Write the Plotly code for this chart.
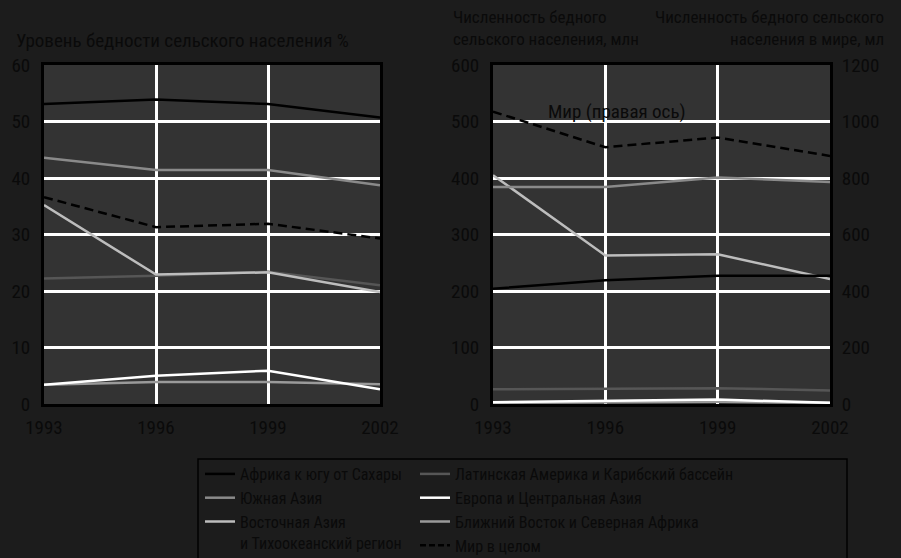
import plotly.graph_objects as go

W, H = 901, 558

years = [1993, 1996, 1999, 2002]

names = [
    "Африка к югу от Сахары",
    "Южная Азия",
    "Восточная Азия<br>и Тихоокеанский регион",
    "Латинская Америка и Карибский бассейн",
    "Европа и Центральная Азия",
    "Ближний Восток и Северная Африка",
    "Мир в целом",
]

# Left panel: rural poverty rate, %
rate_africa = [53.1, 53.9, 53.1, 50.7]
rate_sasia = [43.6, 41.4, 41.4, 38.7]
rate_easia = [35.2, 22.9, 23.3, 19.8]
rate_latam = [22.2, 22.7, 23.4, 21.0]
rate_europe = [3.4, 5.0, 5.9, 2.6]
rate_mena = [3.4, 3.9, 3.9, 3.5]
rate_world = [36.6, 31.3, 31.9, 29.3]

# Right panel: rural poor, millions
num_africa = [204, 219, 227, 227]
num_sasia = [384, 384, 401, 393]
num_easia = [405, 263, 265, 221]
num_latam = [26, 27, 28, 24]
num_europe = [3, 6, 8, 2]
num_mena = [2, 3, 4, 2]
num_world = [1035, 909, 943, 878]  # right axis

colors = ["#000000", "#8a8a8a", "#bdbdbd", "#565656", "#ffffff", "#9a9a9a", "#000000"]
dashes = ["solid"] * 6 + ["9px,5px"]
legend_ids = ["legend", "legend", "legend", "legend2", "legend2", "legend2", "legend2"]

left_vals = [rate_africa, rate_sasia, rate_easia, rate_latam, rate_europe, rate_mena, rate_world]
right_vals = [num_africa, num_sasia, num_easia, num_latam, num_europe, num_mena, num_world]

FONT = "Roboto Condensed, DejaVu Sans Condensed, sans-serif"
TXT = "#0a0a0a"
BG = "#1c1c1c"
PLOT_BG = "#333333"

fig = go.Figure()

draw_order = [3, 5, 4, 2, 1, 6, 0]
for i in draw_order:
    fig.add_trace(go.Scatter(
        x=years, y=left_vals[i], mode="lines", name=names[i],
        line=dict(color=colors[i], width=2.5, dash=dashes[i]),
        xaxis="x", yaxis="y", showlegend=False, hoverinfo="skip"))
for i in draw_order:
    fig.add_trace(go.Scatter(
        x=years, y=right_vals[i], mode="lines", name=names[i],
        line=dict(color=colors[i], width=2.5, dash=dashes[i]),
        xaxis="x2", yaxis="y3" if i == 6 else "y2",
        showlegend=False, hoverinfo="skip"))
# legend entries
for i in range(7):
    fig.add_trace(go.Scatter(
        x=[None], y=[None], mode="lines", name=names[i],
        line=dict(color=colors[i], width=2.5, dash="6px,3px" if i == 6 else "solid"),
        xaxis="x", yaxis="y", legend=legend_ids[i], showlegend=True))

def px_x(p):
    return p / W

def px_y(p):
    return 1 - p / H

ydom = [px_y(404), px_y(65)]

axis_common = dict(
    showline=True, linecolor="#000000", linewidth=3, mirror=True,
    showgrid=True, gridcolor="#ffffff", gridwidth=2.5, zeroline=False,
    ticks="outside", tickcolor="rgba(0,0,0,0)", automargin=False,
    tickfont=dict(family=FONT, size=19, color=TXT),
)

fig.update_layout(
    width=W, height=H,
    margin=dict(l=0, r=0, t=0, b=0, autoexpand=False),
    paper_bgcolor=BG, plot_bgcolor=PLOT_BG,
    font=dict(family=FONT, size=16, color=TXT),
    xaxis=dict(domain=[px_x(44), px_x(380)], range=[1993, 2002], tick0=1993, dtick=3,
               ticklen=4, anchor="y", **axis_common),
    yaxis=dict(domain=ydom, range=[0, 60], dtick=10, ticklen=7, anchor="x", **axis_common),
    xaxis2=dict(domain=[px_x(493), px_x(830)], range=[1993, 2002], tick0=1993, dtick=3,
                ticklen=4, anchor="y2", **axis_common),
    yaxis2=dict(domain=ydom, range=[0, 600], dtick=100, ticklen=7, anchor="x2", **axis_common),
    yaxis3=dict(domain=ydom, range=[0, 1200], dtick=200, overlaying="y2", side="right",
                anchor="x2", showgrid=False, zeroline=False, showline=False, automargin=False,
                ticks="outside", ticklen=7, tickcolor="rgba(0,0,0,0)",
                tickfont=dict(family=FONT, size=19, color=TXT)),
    legend=dict(x=px_x(200), y=px_y(457), xanchor="left", yanchor="top",
                bgcolor="rgba(0,0,0,0)", borderwidth=0, valign="top",
                font=dict(family=FONT, size=16, color=TXT), tracegroupgap=0),
    legend2=dict(x=px_x(415), y=px_y(457), xanchor="left", yanchor="top",
                 bgcolor="rgba(0,0,0,0)", borderwidth=0, valign="top",
                 font=dict(family=FONT, size=16, color=TXT), tracegroupgap=0),
    shapes=[dict(type="rect", xref="paper", yref="paper",
                 x0=px_x(198), x1=px_x(847), y0=px_y(562), y1=px_y(459),
                 line=dict(color="#000000", width=1.5), fillcolor="rgba(0,0,0,0)")],
    annotations=[
        dict(text="Уровень бедности сельского населения %", xref="paper", yref="paper",
             x=px_x(14), y=px_y(41), xanchor="left", yanchor="middle", showarrow=False,
             font=dict(family=FONT, size=19, color=TXT)),
        dict(text="Численность бедного<br>сельского населения, млн", xref="paper", yref="paper",
             x=px_x(451), y=px_y(28), xanchor="left", yanchor="middle", align="left",
             showarrow=False, font=dict(family=FONT, size=17, color=TXT)),
        dict(text="Численность бедного сельского<br>населения в мире, мл", xref="paper", yref="paper",
             x=px_x(886), y=px_y(28), xanchor="right", yanchor="middle", align="right",
             showarrow=False, font=dict(family=FONT, size=17, color=TXT)),
        dict(text="Мир (правая ось)", xref="x2", yref="y3", x=1996.3, y=1037,
             xanchor="center", yanchor="middle", showarrow=False,
             font=dict(family=FONT, size=19, color=TXT)),
    ],
)

fig.write_html("out.html", config={"displayModeBar": False},
               post_script="document.body.style.margin='0';document.body.style.background='#1c1c1c';")
